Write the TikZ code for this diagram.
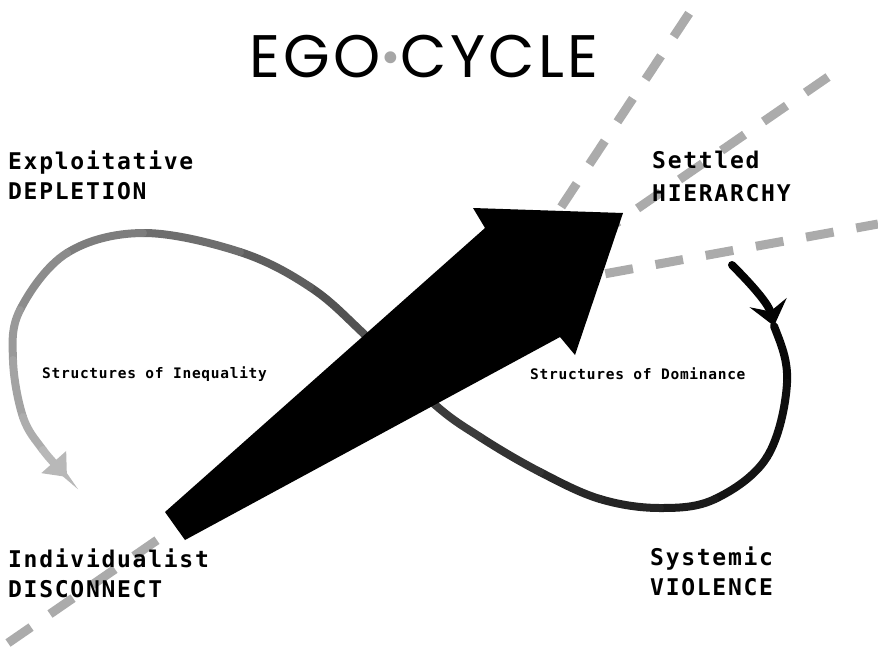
\documentclass[tikz,border=0pt]{standalone}
\usepackage{fontspec}
\setmainfont{DejaVu Sans}
\newfontfamily\titlefont[LetterSpace=5.5]{Poppins}
\newfontfamily\cornerfont[LetterSpace=7.5]{DejaVu Sans Mono Bold}
\newfontfamily\loopfont[LetterSpace=5]{DejaVu Sans Mono Bold}
\usetikzlibrary{positioning, arrows.meta}

\tikzset{
  guide/.style={draw=black!33, line width=9pt, dash pattern=on 28pt off 23pt},
  ribbon/.style={line width=8pt, line cap=round},
  corner/.style={font=\cornerfont\fontsize{23}{30}\selectfont, anchor=base west, inner sep=0pt},
  loopname/.style={font=\loopfont\fontsize{14.5}{18}\selectfont, anchor=base west, inner sep=0pt},
}

\begin{document}
\begin{tikzpicture}[x=1pt, y=-1pt]
\useasboundingbox (0,0) rectangle (878,646);

% dashed guides
\coordinate (hub) at (505,292);
\draw[guide] (8,643) -- (828,77);
\draw[guide] (hub) -- (690,12);
\draw[guide] (hub) -- (878,224);

% the figure eight, black on the right fading to grey on the left
\draw[ribbon, black!99, -{Stealth[length=24pt,width=38pt,inset=9pt]}]
  (732,265) .. controls (745,278) and (768,302) .. (774,326);
\draw[ribbon, black!97] (774,326) .. controls (781,344) and (788.3,360.5) .. (787,383);
\draw[ribbon, black!94] (787,383) .. controls (785.7,405.5) and (779,437.7) .. (767,457);
\draw[ribbon, black!92] (767,457) .. controls (755,476.3) and (732.8,490.5) .. (715,499);
\draw[ribbon, black!89] (715,499) .. controls (697.2,507.5) and (679.2,508) .. (660,508);
\draw[ribbon, black!86] (660,508) .. controls (640.8,508) and (620,505) .. (600,499);
\draw[ribbon, black!84] (600,499) .. controls (580,493) and (560,482.3) .. (540,472);
\draw[ribbon, black!80] (540,472) .. controls (520,461.7) and (497.8,448.5) .. (480,437);
\draw[ribbon, black!77] (480,437) .. controls (462.2,425.5) and (452.5,420.3) .. (433,403);
\draw[ribbon, black!73] (433,403) .. controls (413.5,385.7) and (383.5,352.3) .. (363,333);
\draw[ribbon, black!68] (363,333) .. controls (342.5,313.7) and (330.5,300.5) .. (310,287);
\draw[ribbon, black!63] (310,287) .. controls (289.5,273.5) and (267.8,261) .. (240,252);
\draw[ribbon, black!57] (240,252) .. controls (212.2,243) and (171.8,232.8) .. (143,233);
\draw[ribbon, black!51] (143,233) .. controls (114.2,233.2) and (87.5,240.2) .. (67,253);
\draw[ribbon, black!45] (67,253) .. controls (46.5,265.8) and (29,292.2) .. (20,310);
\draw[ribbon, black!40] (20,310) .. controls (11,327.8) and (12.5,342.2) .. (13,360);
\draw[ribbon, black!36] (13,360) .. controls (13.5,377.8) and (18,402) .. (23,417);
\draw[ribbon, black!32] (23,417) .. controls (28,432) and (35.7,440) .. (43,450);
\draw[ribbon, black!28, -{Triangle[length=20pt,width=32pt]}]
  (43,450) .. controls (50.3,460) and (63,472.5) .. (67,477);

% big arrow
\fill (165,512) -- (485,228) -- (473,208) -- (623,213) -- (575,355)
  -- (560,337) -- (185,540) -- cycle;

% title
\node (title) [font=\titlefont\fontsize{60}{60}\selectfont, anchor=base, inner sep=0pt]
  at (424,77) {EGO{\color{black!35}\raisebox{-13pt}{\scalebox{1.6}{·}}}CYCLE};

% corner labels
\node (expl) [corner] at (8,169) {Exploitative};
\node (depl) [corner] at ([yshift=-30pt]expl.base west) {DEPLETION};
\node (sett) [corner] at (652,168) {Settled};
\node (hier) [corner] at ([yshift=-33pt]sett.base west) {HIERARCHY};
\node (indi) [corner] at (8,567) {Individualist};
\node (disc) [corner] at ([yshift=-30pt]indi.base west) {DISCONNECT};
\node (syst) [corner] at (650,565) {Systemic};
\node (viol) [corner] at ([yshift=-30pt]syst.base west) {VIOLENCE};

% loop labels
\node (ineq) [loopname] at (42,378) {Structures of Inequality};
\node (domi) [loopname] at (530,379) {Structures of Dominance};
\end{tikzpicture}
\end{document}
